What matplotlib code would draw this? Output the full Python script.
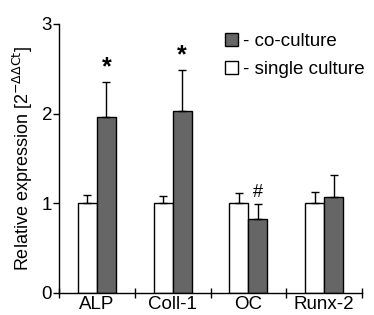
import matplotlib
matplotlib.use('Agg')
import matplotlib.pyplot as plt
import numpy as np
from matplotlib.patches import Patch

plt.rcParams['font.family'] = ['Liberation Sans', 'DejaVu Sans']

genes = ['ALP', 'Coll-1', 'OC', 'Runx-2']
single = [1.0, 1.0, 1.0, 1.0]
single_err = [0.09, 0.08, 0.11, 0.13]
co = [1.96, 2.03, 0.82, 1.07]
co_err = [0.39, 0.46, 0.17, 0.24]
marks = ['*', '*', '#', '']

fig = plt.figure(figsize=(3.74, 3.15), dpi=100)
ax = fig.add_axes([0.158, 0.070, 0.810, 0.854])

x = np.arange(len(genes))
w = 0.25
ax.bar(x - w / 2, single, w, color='white', edgecolor='black', linewidth=1.0,
       yerr=[np.zeros(4), single_err], capsize=3,
       error_kw=dict(elinewidth=1.0, capthick=1.0, ecolor='black'))
ax.bar(x + w / 2, co, w, color='#666666', edgecolor='black', linewidth=1.0,
       yerr=[np.zeros(4), co_err], capsize=3,
       error_kw=dict(elinewidth=1.0, capthick=1.0, ecolor='black'))

for i, m in enumerate(marks):
    if not m:
        continue
    top = co[i] + co_err[i]
    if m == '*':
        ax.text(x[i] + w / 2, top + 0.03, m, ha='center', va='bottom', fontsize=18, fontweight='bold')
    else:
        ax.text(x[i] + w / 2, top + 0.04, m, ha='center', va='bottom', fontsize=13)

ax.set_xlim(-0.5, len(genes) - 0.5)
ax.set_ylim(0, 3)
ax.set_yticks([0, 1, 2, 3])
ax.set_xticks(x)
ax.set_xticklabels(genes, fontsize=13.5)
ax.set_xticks(np.arange(len(genes) + 1) - 0.5, minor=True)
ax.tick_params(axis='x', which='major', length=0, pad=2)
ax.tick_params(axis='x', which='minor', direction='inout', length=7, width=1.0)
ax.tick_params(axis='y', direction='out', length=4, width=1.0, labelsize=13.5, pad=1)
ax.spines['top'].set_visible(False)
ax.spines['right'].set_visible(False)
ax.spines['left'].set_linewidth(1.0)
ax.spines['bottom'].set_linewidth(1.0)
ax.set_ylabel(r'Relative expression [2$^{-\Delta\Delta\mathrm{Ct}}$]', fontsize=13, labelpad=5)

handles = [Patch(facecolor='#666666', edgecolor='black', label='- co-culture'),
           Patch(facecolor='white', edgecolor='black', label='- single culture')]
ax.legend(handles=handles, loc='upper right', bbox_to_anchor=(1.04, 1.0), frameon=False,
          fontsize=13.5, handlelength=0.7, handleheight=0.7, handletextpad=0.25,
          labelspacing=0.55, borderaxespad=0.1)

fig.savefig('out.png', dpi=100)
